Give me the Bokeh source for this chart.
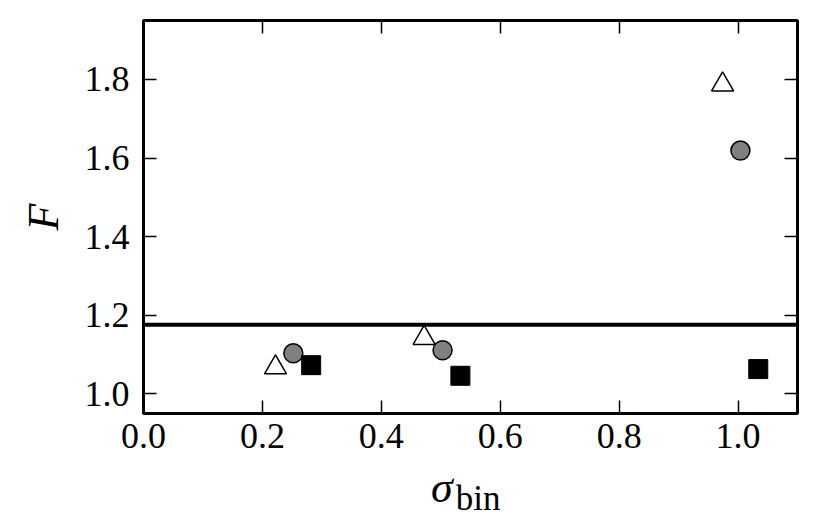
from bokeh.plotting import figure
from bokeh.models import LinearAxis, Range1d, Span, FixedTicker, NumeralTickFormatter, Div
from bokeh.layouts import column
from bokeh.embed import file_html
from bokeh.resources import INLINE

# Data
tri_x = [0.222, 0.472, 0.974]
tri_y = [1.067, 1.142, 1.787]
circ_x = [0.252, 0.503, 1.004]
circ_y = [1.103, 1.111, 1.619]
sq_x = [0.282, 0.533, 1.034]
sq_y = [1.073, 1.046, 1.063]
f_threshold = 1.176
x_ticks = [0.0, 0.2, 0.4, 0.6, 0.8, 1.0]
y_ticks = [1.0, 1.2, 1.4, 1.6, 1.8]

FONT = "Liberation Serif"

p = figure(width=813, height=470, output_backend="svg", toolbar_location=None,
           x_range=Range1d(0.0, 1.1), y_range=Range1d(0.95, 1.95),
           min_border_left=143, min_border_right=16, min_border_top=20, min_border_bottom=57,
           x_axis_location=None, y_axis_location=None)
p.grid.visible = False
p.outline_line_color = "black"
p.outline_line_width = 3
p.background_fill_color = "white"
p.border_fill_color = "white"

def make_axis(ticks, show_labels):
    ax = LinearAxis(ticker=FixedTicker(ticks=ticks), formatter=NumeralTickFormatter(format="0.0"))
    ax.axis_line_color = None
    ax.major_tick_in = 13
    ax.major_tick_out = 0
    ax.major_tick_line_width = 1.5
    ax.minor_tick_line_color = None
    ax.major_label_text_font = FONT
    ax.major_label_text_font_size = "36px"
    ax.major_label_text_color = "black"
    ax.major_label_standoff = 10
    if not show_labels:
        ax.major_label_text_font_size = "0px"
        ax.major_label_text_color = None
    return ax

bx = make_axis(x_ticks, True)
bx.major_label_standoff = 10
p.add_layout(bx, "below")
lx = make_axis(y_ticks, True)
lx.major_label_standoff = 14
lx.axis_label = "F"
lx.axis_label_text_font = FONT
lx.axis_label_text_font_style = "italic"
lx.axis_label_text_font_size = "44px"
lx.axis_label_text_color = "black"
lx.axis_label_standoff = 14
p.add_layout(lx, "left")
p.add_layout(make_axis(x_ticks, False), "above")
p.add_layout(make_axis(y_ticks, False), "right")

p.add_layout(Span(location=f_threshold, dimension="width", line_color="black", line_width=4))

p.scatter(tri_x, tri_y, marker="triangle", size=22, fill_color="white",
          line_color="black", line_width=1.5)
p.scatter(circ_x, circ_y, marker="circle", size=19, fill_color="#808080",
          line_color="black", line_width=1.5)
p.scatter(sq_x, sq_y, marker="square", size=19, fill_color="black",
          line_color="black", line_width=1)

# x-axis label: sigma with subscript "bin"
xlabel = Div(width=813, height=50,
             text=("<div style=\"font-family:'Liberation Serif'; font-size:44px; line-height:26px; "
                   "padding-left:426px; white-space:nowrap; color:black\">"
                   "<i>σ</i><span style=\"font-size:35px; position:relative; top:8px; left:3px\">bin</span></div>"))

layout = column(p, xlabel, spacing=0)
open("out.html", "w").write(file_html(layout, INLINE))
